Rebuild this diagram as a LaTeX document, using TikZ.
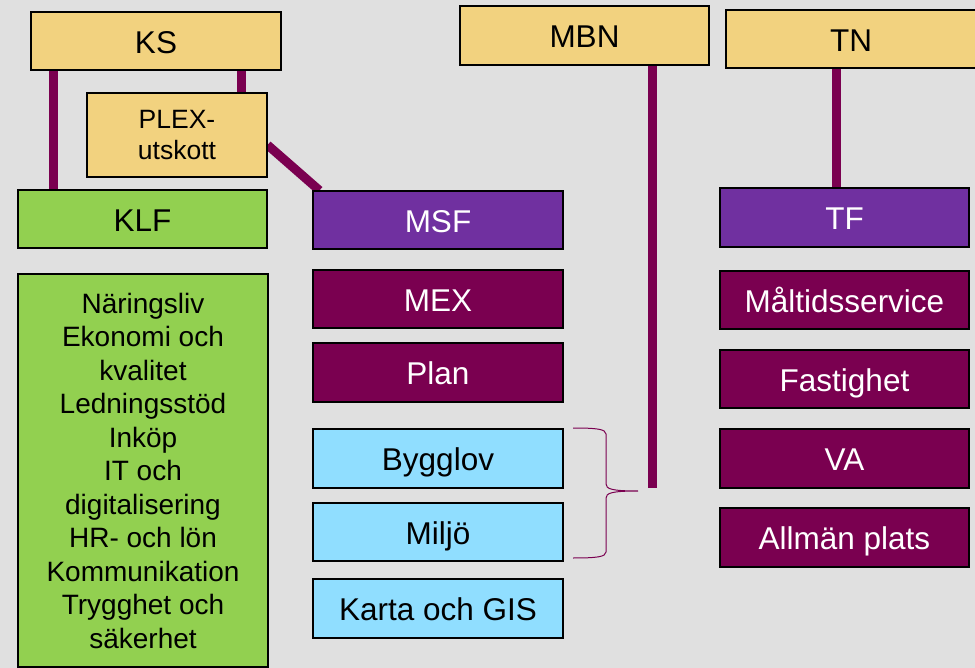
\documentclass[tikz,border=0pt]{standalone}
\usepackage{fontspec}
\setmainfont{Liberation Sans}
\definecolor{bgc}{HTML}{E0E0E0}
\definecolor{yel}{HTML}{F2D27F}
\definecolor{grn}{HTML}{92D050}
\definecolor{pur}{HTML}{7030A0}
\definecolor{mag}{HTML}{7A0050}
\definecolor{lbl}{HTML}{90DEFF}
\pgfdeclarelayer{bglayer}
\pgfdeclarelayer{connlayer}
\pgfsetlayers{bglayer,connlayer,main}
\tikzset{
  box/.style={draw=black, line width=1.1pt, inner sep=0pt, minimum width=250pt,
    minimum height=58pt, font=\fontsize{31.5}{37}\selectfont, text height=24.5pt, text depth=0pt},
  yelbox/.style={box, fill=yel, text=black},
  grnbox/.style={box, fill=grn, text=black},
  purbox/.style={box, fill=pur, text=white},
  magbox/.style={box, fill=mag, text=white},
  bluebox/.style={box, fill=lbl, text=black},
  conn/.style={draw=mag, line width=9pt},
  bracestyle/.style={draw=mag, line width=1pt}
}
\begin{document}
\begin{tikzpicture}[x=1pt,y=-1pt]
\useasboundingbox (0,0) rectangle (975,668);
\begin{pgfonlayer}{bglayer}
\fill[bgc] (0,0) rectangle (975,668);
\end{pgfonlayer}
% top row
\node[yelbox] (KS) at (156,41) {KS};
\node[yelbox, minimum width=180pt, minimum height=84pt, text height=, text depth=, align=center,
  font=\fontsize{26.5}{31}\selectfont] (PLEX) at (177,135) {PLEX-\\utskott};
\node[yelbox, minimum width=249pt, minimum height=59pt] (MBN) at (584.5,35.5) {MBN};
\node[yelbox] (TN) at (851,39) {TN};
% second row
\node[grnbox, minimum width=249pt] (KLF) at (142.5,219) {KLF};
\node[purbox] (MSF) at (438,220) {MSF};
\node[purbox, minimum width=249pt, minimum height=59pt] (TF) at (844.5,217.5) {TF};
% green list
\node[grnbox, minimum height=393pt, text height=, text depth=, align=center,
  font=\fontsize{28}{33.5}\selectfont] (LIST) at (143,470.5)
  {Näringsliv\\Ekonomi och\\kvalitet\\Ledningsstöd\\Inköp\\IT och\\digitalisering\\HR- och lön\\Kommunikation\\Trygghet och\\säkerhet};
% middle column
\node[magbox] (MEX) at (438,299) {MEX};
\node[magbox, minimum height=59pt] (PLAN) at (438,372.5) {Plan};
\node[bluebox, minimum height=59pt] (BYGG) at (438,458.5) {Bygglov};
\node[bluebox] (MILJO) at (438,532) {Miljö};
\node[bluebox, minimum height=59pt] (KARTA) at (438,608.5) {Karta och GIS};
% right column
\node[magbox, minimum width=249pt] (MALT) at (844.5,300) {Måltidsservice};
\node[magbox, minimum width=249pt] (FAST) at (844.5,379) {Fastighet};
\node[magbox, minimum width=249pt, minimum height=59pt] (VA) at (844.5,458.5) {VA};
\node[magbox, minimum width=249pt, minimum height=59pt] (ALLM) at (844.5,537.5) {Allmän plats};
% connectors
\coordinate (mbnend) at (652,488);
\coordinate (bracetip) at (638,491);
\begin{pgfonlayer}{connlayer}
\draw[conn] ([xshift=23.5pt]KS.south west) -- ([xshift=36.5pt]KLF.north west);
\draw[conn] ([xshift=211pt]KS.south west) -- ([xshift=155pt]PLEX.north west);
\draw[conn] ([yshift=-10pt]PLEX.east) -- ([xshift=7pt]MSF.north west);
\draw[conn] (MBN.south -| mbnend) -- (mbnend);
\draw[conn] ([xshift=111pt]TN.south west) -- ([xshift=117pt]TF.north west);
\end{pgfonlayer}
% brace
\draw[bracestyle] (573,428) .. controls (596,428) and (606,429) .. (606,434) -- (606,484)
  .. controls (606,489) and (612,491) .. (bracetip)
  .. controls (612,491) and (606,493) .. (606,498) -- (606,552)
  .. controls (606,557) and (596,558) .. (573,558);
\end{tikzpicture}
\end{document}
